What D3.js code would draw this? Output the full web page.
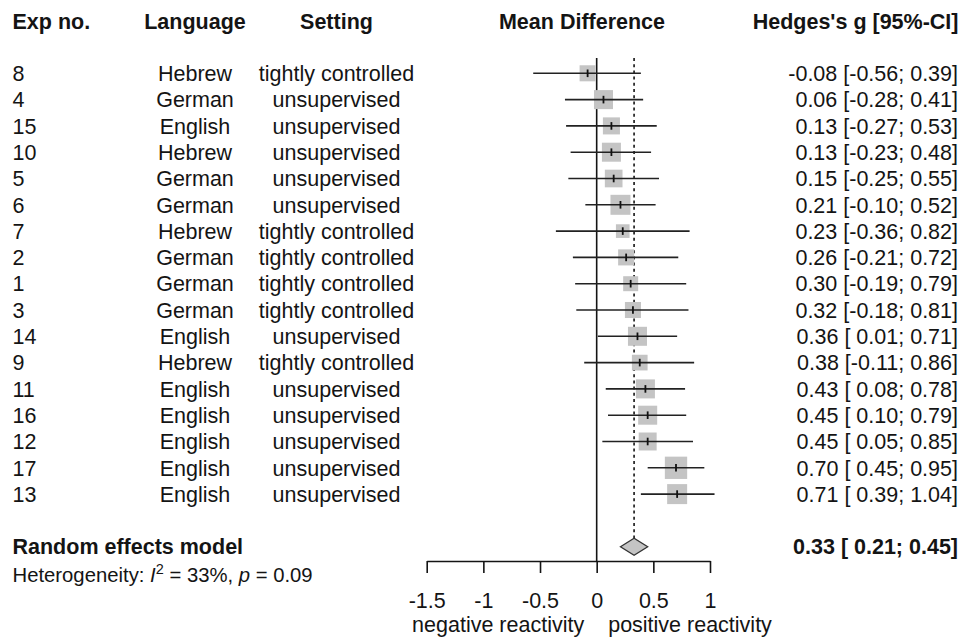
<!DOCTYPE html>
<html>
<head>
<meta charset="utf-8">
<script src="https://cdn.jsdelivr.net/npm/d3@7"></script>
<style>
  html, body { margin: 0; padding: 0; background: #fff; }
  svg { display: block; font-family: "Liberation Sans", Arial, sans-serif; }
</style>
</head>
<body>
<svg id="chart" width="961" height="642"></svg>
<script>
// ---- data ----
const expNo = ["8","4","15","10","5","6","7","2","1","3","14","9","11","16","12","17","13"];
const language = ["Hebrew","German","English","Hebrew","German","German","Hebrew","German","German","German","English","Hebrew","English","English","English","English","English"];
const setting = ["tightly controlled","unsupervised","unsupervised","unsupervised","unsupervised","unsupervised","tightly controlled","tightly controlled","tightly controlled","tightly controlled","unsupervised","tightly controlled","unsupervised","unsupervised","unsupervised","unsupervised","unsupervised"];
const est = [-0.08,0.06,0.13,0.13,0.15,0.21,0.23,0.26,0.30,0.32,0.36,0.38,0.43,0.45,0.45,0.70,0.71];
const lower = [-0.56,-0.28,-0.27,-0.23,-0.25,-0.10,-0.36,-0.21,-0.19,-0.18,0.01,-0.11,0.08,0.10,0.05,0.45,0.39];
const upper = [0.39,0.41,0.53,0.48,0.55,0.52,0.82,0.72,0.79,0.81,0.71,0.86,0.78,0.79,0.85,0.95,1.04];
const weight = [4.7,6.6,5.3,6.6,5.7,7.3,3.4,4.7,4.1,4.7,6.6,4.5,6.6,6.6,5.9,9.1,7.3]; // % (estimated from square sizes)
const pooled = { est: 0.33, lower: 0.21, upper: 0.45 };
const heterogeneity = { I2: "33%", p: "0.09" };
const headers = ["Exp no.", "Language", "Setting", "Mean Difference", "Hedges's g [95%-CI]"];
const tickValues = [-1.5, -1, -0.5, 0, 0.5, 1];
const axisLabels = ["negative reactivity", "positive reactivity"];

// ---- layout ----
const svg = d3.select("#chart");
const FS = 21.5;
const ink = "#141414";

const locale = d3.formatLocale({ decimal: ".", thousands: ",", grouping: [3], currency: ["", ""], minus: "-" });

const x = d3.scaleLinear().domain([-1.5, 1]).range([426.7, 710]);
const y = d3.scaleLinear().domain([0, 18]).range([73.3, 546.7]);
const side = d3.scaleSqrt().domain([0, 10]).range([0, 23.4]);

const fmt = locale.format(".2f");
const fmtLo = v => (v >= 0 ? " " : "") + fmt(v);
const ciText = (e, l, u) => `${fmt(e)} [${fmtLo(l)}; ${fmt(u)}]`;

// headers
const hdrY = 29;
const hdr = svg.append("g").attr("font-weight", "bold").attr("font-size", FS).attr("fill", ink);
hdr.append("text").attr("x", 12.5).attr("y", hdrY).text(headers[0]);
hdr.append("text").attr("x", 195).attr("y", hdrY).attr("text-anchor", "middle").text(headers[1]);
hdr.append("text").attr("x", 336.5).attr("y", hdrY).attr("text-anchor", "middle").text(headers[2]);
hdr.append("text").attr("x", 582).attr("y", hdrY).attr("text-anchor", "middle").text(headers[3]);
hdr.append("text").attr("x", 958.5).attr("y", hdrY).attr("text-anchor", "end").text(headers[4]);

// study rows text
const rows = svg.append("g").attr("font-size", FS).attr("fill", ink);
const idx = d3.range(est.length);
rows.selectAll(".exp").data(idx).join("text")
  .attr("x", 12.5).attr("y", i => y(i)).attr("dy", "0.36em").text(i => expNo[i]);
rows.selectAll(".lang").data(idx).join("text")
  .attr("x", 195).attr("y", i => y(i)).attr("dy", "0.36em").attr("text-anchor", "middle").text(i => language[i]);
rows.selectAll(".set").data(idx).join("text")
  .attr("x", 336.5).attr("y", i => y(i)).attr("dy", "0.36em").attr("text-anchor", "middle").text(i => setting[i]);
rows.selectAll(".ci").data(idx).join("text")
  .attr("x", 958).attr("y", i => y(i)).attr("dy", "0.36em").attr("text-anchor", "end")
  .text(i => ciText(est[i], lower[i], upper[i]));

// reference lines
const plot = svg.append("g");
plot.append("line")
  .attr("x1", x(0)).attr("x2", x(0)).attr("y1", 58).attr("y2", 561)
  .attr("stroke", ink).attr("stroke-width", 1.6);
plot.append("line")
  .attr("x1", x(pooled.est)).attr("x2", x(pooled.est)).attr("y1", 58).attr("y2", y(18) - 8.5)
  .attr("stroke", ink).attr("stroke-width", 1.6).attr("stroke-dasharray", "3,3.2");

// squares
plot.selectAll(".sq").data(idx).join("rect")
  .attr("x", i => x(est[i]) - side(weight[i]) / 2)
  .attr("y", i => y(i) - side(weight[i]) / 2)
  .attr("width", i => side(weight[i]))
  .attr("height", i => side(weight[i]))
  .attr("fill", "#c4c4c4");
// CI lines
plot.selectAll(".cil").data(idx).join("line")
  .attr("x1", i => x(lower[i])).attr("x2", i => x(upper[i]))
  .attr("y1", i => y(i)).attr("y2", i => y(i))
  .attr("stroke", "#222").attr("stroke-width", 1.6);
// estimate ticks
plot.selectAll(".tk").data(idx).join("line")
  .attr("x1", i => x(est[i])).attr("x2", i => x(est[i]))
  .attr("y1", i => y(i) - 3.8).attr("y2", i => y(i) + 3.8)
  .attr("stroke", "#111").attr("stroke-width", 1.8);

// pooled diamond
const yd = y(18);
plot.append("path")
  .attr("d", `M${x(pooled.lower)},${yd} L${x(pooled.est)},${yd - 8.5} L${x(pooled.upper)},${yd} L${x(pooled.est)},${yd + 8.5} Z`)
  .attr("fill", "#c4c4c4").attr("stroke", "#333").attr("stroke-width", 1.3);

svg.append("text").attr("x", 12.5).attr("y", yd).attr("dy", "0.36em")
  .attr("font-weight", "bold").attr("font-size", FS).attr("fill", ink).text("Random effects model");
svg.append("text").attr("x", 958).attr("y", yd).attr("dy", "0.36em").attr("text-anchor", "end")
  .attr("font-weight", "bold").attr("font-size", FS).attr("fill", ink)
  .text(ciText(pooled.est, pooled.lower, pooled.upper));

const het = svg.append("text").attr("x", 12.5).attr("y", 581.5).attr("font-size", 20.3).attr("fill", ink);
het.append("tspan").text("Heterogeneity: ");
het.append("tspan").attr("font-style", "italic").text("I");
het.append("tspan").attr("font-size", 14.5).attr("dy", -8).text("2");
het.append("tspan").attr("dy", 8).text(` = ${heterogeneity.I2}, `);
het.append("tspan").attr("font-style", "italic").text("p");
het.append("tspan").text(` = ${heterogeneity.p}`);

// axis
const axis = d3.axisBottom(x).tickValues(tickValues).tickSize(12).tickSizeOuter(0).tickPadding(20)
  .tickFormat(locale.format(""));
const ag = svg.append("g").attr("transform", "translate(0,561)").call(axis);
ag.select(".domain").attr("stroke", ink).attr("stroke-width", 1.6);
ag.selectAll(".tick line").attr("stroke", ink).attr("stroke-width", 1.6);
ag.selectAll(".tick text").attr("font-size", FS).attr("fill", ink)
  .attr("font-family", '"Liberation Sans", Arial, sans-serif');

svg.append("text").attr("x", x(0) - 12.5).attr("y", 632).attr("text-anchor", "end")
  .attr("font-size", FS).attr("fill", ink).text(axisLabels[0]);
svg.append("text").attr("x", x(0) + 11.5).attr("y", 632)
  .attr("font-size", FS).attr("fill", ink).text(axisLabels[1]);
</script>
</body>
</html>
